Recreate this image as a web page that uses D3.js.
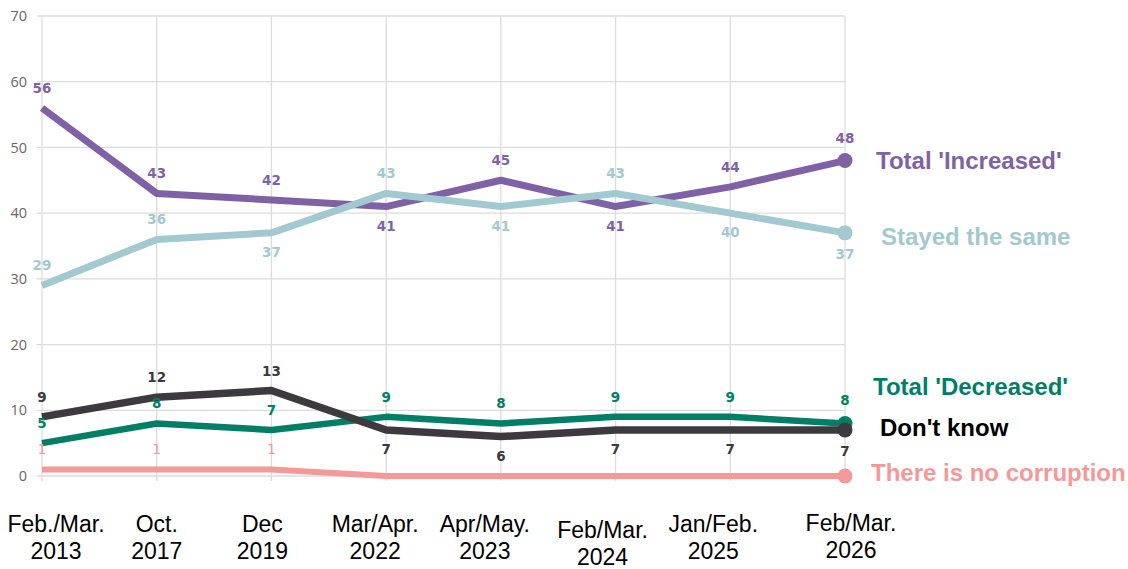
<!DOCTYPE html>
<html>
<head>
<meta charset="utf-8">
<script src="https://cdn.jsdelivr.net/npm/d3@7"></script>
<style>
  html, body { margin: 0; padding: 0; background: #fff; }
  svg { display: block; }
</style>
</head>
<body>
<svg id="chart" width="1128" height="569"></svg>
<script>
// ---- Data ----
const categories = [
  ["Feb./Mar.", "2013"],
  ["Oct.", "2017"],
  ["Dec", "2019"],
  ["Mar/Apr.", "2022"],
  ["Apr/May.", "2023"],
  ["Feb/Mar.", "2024"],
  ["Jan/Feb.", "2025"],
  ["Feb/Mar.", "2026"]
];
const seriesNames = ["Total 'Increased'", "Stayed the same", "Total 'Decreased'", "Don't know", "There is no corruption"];
const increased    = [56, 43, 42, 41, 45, 41, 44, 48];
const stayedSame   = [29, 36, 37, 43, 41, 43, 40, 37];
const decreased    = [5, 8, 7, 9, 8, 9, 9, 8];
const dontKnow     = [9, 12, 13, 7, 6, 7, 7, 7];
const noCorruption = [1, 1, 1, 0, 0, 0, 0, 0];
// label placement: 1 = above, -1 = below, 0 = none
const incPos   = [1, 1, 1, -1, 1, -1, 1, 1];
const samePos  = [1, 1, -1, 1, -1, 1, -1, -1];
const decPos   = [1, 1, 1, 1, 1, 1, 1, 1];
const dkPos    = [1, 1, 1, -1, -1, -1, -1, -1];
const noPos    = [1, 1, 1, 0, 0, 0, 0, 0];
const yTicks = [0, 10, 20, 30, 40, 50, 60, 70];

// ---- Layout / styles ----
const xLabelNudge = [14, 0, -9, -11, -16, -13, -17, 6];
const xLabelDrop  = [0, 0, 0, 0, 0, 6, 0, -1];
const series = [
  { name: seriesNames[4], values: noCorruption, pos: noPos, color: "#f4999a", width: 6, weight: 400, legendX: 26, legendDy: -4 },
  { name: seriesNames[2], values: decreased, pos: decPos, color: "#017f66", width: 6.5, weight: 700, legendX: 28, legendDy: -37 },
  { name: seriesNames[3], values: dontKnow, pos: dkPos, color: "#3c3a3d", width: 7.5, weight: 700, legendX: 35, legendDy: -3, legendColor: "#000" },
  { name: seriesNames[0], values: increased, pos: incPos, color: "#7f62a5", width: 7, weight: 700, legendX: 31, legendDy: 0 },
  { name: seriesNames[1], values: stayedSame, pos: samePos, color: "#a3c9d0", width: 7, weight: 700, legendX: 36, legendDy: 4 }
];

const svg = d3.select("#chart");
const x = d3.scalePoint().domain(d3.range(categories.length)).range([42, 845]);
const y = d3.scaleLinear().domain([0, 70]).range([476, 16]);

// Grid
const grid = svg.append("g");
grid.selectAll("line.h").data(yTicks).join("line")
  .attr("x1", 37).attr("x2", x(categories.length - 1))
  .attr("y1", d => y(d)).attr("y2", d => y(d))
  .attr("stroke", "#dcdcdc").attr("stroke-width", 1.3);
grid.selectAll("line.v").data(d3.range(categories.length)).join("line")
  .attr("x1", d => x(d)).attr("x2", d => x(d))
  .attr("y1", y(70)).attr("y2", y(0) + 5)
  .attr("stroke", "#dcdcdc").attr("stroke-width", 1.3);

// Y axis labels
const yAxis = d3.axisLeft(y).tickValues(yTicks).tickSize(0).tickPadding(0);
const yg = svg.append("g").attr("transform", "translate(27,0)").call(yAxis);
yg.select(".domain").remove();
yg.selectAll("text").attr("font-family", "'Open Sans', sans-serif").attr("font-size", 14.5).attr("fill", "#6d6466");

// X axis labels
const xg = svg.append("g");
categories.forEach((c, i) => {
  const cx = x(i) + xLabelNudge[i];
  const t = xg.append("text")
    .attr("x", cx).attr("y", 532 + xLabelDrop[i])
    .attr("text-anchor", "middle")
    .attr("font-family", "'Liberation Sans', Arial, sans-serif")
    .attr("font-size", 23).attr("fill", "#000");
  t.append("tspan").attr("x", cx).text(c[0]);
  t.append("tspan").attr("x", cx).attr("dy", 27).text(c[1]);
});

// Lines
const line = d3.line().x((d, i) => x(i)).y(d => y(d));
const lines = svg.append("g");
series.forEach(s => {
  lines.append("path")
    .datum(s.values)
    .attr("d", line)
    .attr("fill", "none")
    .attr("stroke", s.color)
    .attr("stroke-width", s.width)
    .attr("stroke-linejoin", "round");
  const last = s.values.length - 1;
  lines.append("circle")
    .attr("cx", x(last)).attr("cy", y(s.values[last]))
    .attr("r", 7.5).attr("fill", s.color);
});

// Data labels
const labels = svg.append("g");
series.forEach(s => {
  s.values.forEach((v, i) => {
    if (!s.pos[i]) return;
    const isLast = i === s.values.length - 1;
    const off = s.pos[i] > 0 ? -(isLast ? 23 : 20) : (isLast ? 21 : 19);
    labels.append("text")
      .attr("x", x(i)).attr("y", y(v) + off)
      .attr("text-anchor", "middle")
      .attr("dominant-baseline", "central")
      .attr("font-family", "'DejaVu Sans', sans-serif")
      .attr("font-size", 13.5)
      .attr("font-weight", s.weight)
      .attr("fill", s.color)
      .text(v);
  });
});

// Legend labels at line ends
const legend = svg.append("g");
series.forEach(s => {
  const last = s.values.length - 1;
  legend.append("text")
    .attr("x", x(last) + s.legendX)
    .attr("y", y(s.values[last]) + s.legendDy)
    .attr("dominant-baseline", "central")
    .attr("font-family", "'Liberation Sans', Arial, sans-serif")
    .attr("font-size", 24).attr("font-weight", 700)
    .attr("fill", s.legendColor || s.color)
    .text(s.name);
});
</script>
</body>
</html>
